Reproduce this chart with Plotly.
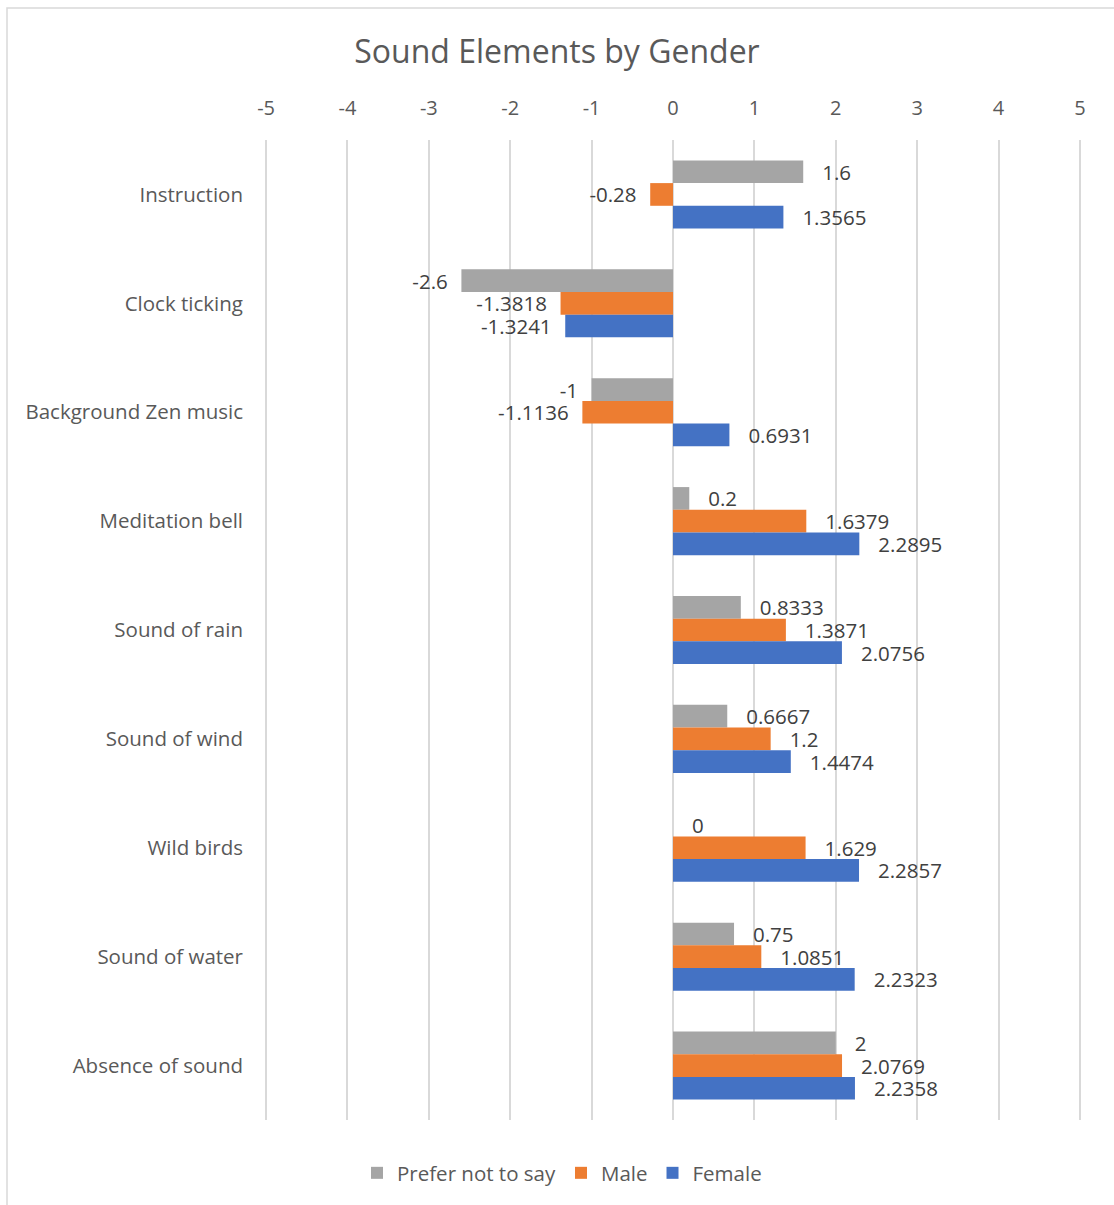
import plotly.graph_objects as go

# Sound elements rated by respondents, grouped by gender
categories = [
    "Instruction", "Clock ticking", "Background Zen music", "Meditation bell",
    "Sound of rain", "Sound of wind", "Wild birds", "Sound of water", "Absence of sound",
]
prefer_not = [1.6, -2.6, -1, 0.2, 0.8333, 0.6667, 0, 0.75, 2]
male = [-0.28, -1.3818, -1.1136, 1.6379, 1.3871, 1.2, 1.629, 1.0851, 2.0769]
female = [1.3565, -1.3241, 0.6931, 2.2895, 2.0756, 1.4474, 2.2857, 2.2323, 2.2358]

x_ticks = [-5, -4, -3, -2, -1, 0, 1, 2, 3, 4, 5]

FONT = "Open Sans"
TEXT_COLOR = "#404040"
AXIS_COLOR = "#595959"


def label(v):
    s = f"{v:g}"
    return s + "\u00a0\u00a0" if v < 0 else "\u00a0\u00a0\u00a0" + s


series = [
    ("Prefer not to say", prefer_not, "#A5A5A5"),
    ("Male", male, "#ED7D31"),
    ("Female", female, "#4472C4"),
]

fig = go.Figure()
for name, vals, color in series:
    fig.add_trace(go.Bar(
        name=name,
        y=categories,
        x=vals,
        orientation="h",
        marker=dict(color=color, line=dict(width=0)),
        text=[label(v) for v in vals],
        textposition="outside",
        constraintext="none",
        cliponaxis=False,
        outsidetextfont=dict(family=FONT, size=20.5, color=TEXT_COLOR),
        hoverinfo="x+y+name",
    ))

W, H = 1114, 1205
# x range is padded slightly so the outer gridlines at -5 and 5 are drawn
x_pad = 0.05
unit_px = 81.4
ml = round(266 - x_pad * unit_px)
mr = round(34 - x_pad * unit_px)
mt, mb = 140, 85
plot_w = W - ml - mr
plot_h = H - mt - mb

fig.update_layout(
    width=W,
    height=H,
    margin=dict(l=ml, r=mr, t=mt, b=mb),
    paper_bgcolor="white",
    plot_bgcolor="white",
    barmode="group",
    bargap=0.375,
    bargroupgap=0,
    font=dict(family=FONT, size=20, color=TEXT_COLOR),
    title=dict(
        text="Sound Elements by Gender",
        x=0.5, xref="container", xanchor="center",
        y=1 - 52 / H, yref="container", yanchor="middle",
        font=dict(family=FONT, size=32, color=AXIS_COLOR),
    ),
    xaxis=dict(
        side="top",
        range=[-5 - x_pad, 5 + x_pad],
        tickvals=x_ticks,
        ticktext=[str(t) for t in x_ticks],
        showgrid=True,
        gridcolor="#D9D9D9",
        gridwidth=2,
        zeroline=True,
        zerolinecolor="#D9D9D9",
        zerolinewidth=2,
        showline=False,
        ticks="",
        ticklabelstandoff=20,
        tickfont=dict(family=FONT, size=20, color=AXIS_COLOR),
        fixedrange=True,
    ),
    yaxis=dict(
        autorange="reversed",
        showgrid=False,
        zeroline=False,
        showline=False,
        ticks="",
        ticklabelstandoff=22 - (266 - ml),
        tickfont=dict(family=FONT, size=20.5, color=AXIS_COLOR),
    ),
    legend=dict(
        orientation="h",
        x=(562 - ml) / plot_w, xanchor="center",
        y=-(1173 - (H - mb)) / plot_h, yanchor="middle",
        font=dict(family=FONT, size=20.5, color=AXIS_COLOR),
        traceorder="normal",
        itemwidth=30,
    ),
    showlegend=True,
    shapes=[
        dict(
            type="rect", xref="paper", yref="paper",
            x0=(7 - ml) / plot_w, x1=1.5,
            y0=-0.5, y1=1 + (mt - 8) / plot_h,
            line=dict(color="#D9D9D9", width=1.5),
            fillcolor="rgba(0,0,0,0)",
            layer="below",
        )
    ],
)

fig.write_html("out.html")
